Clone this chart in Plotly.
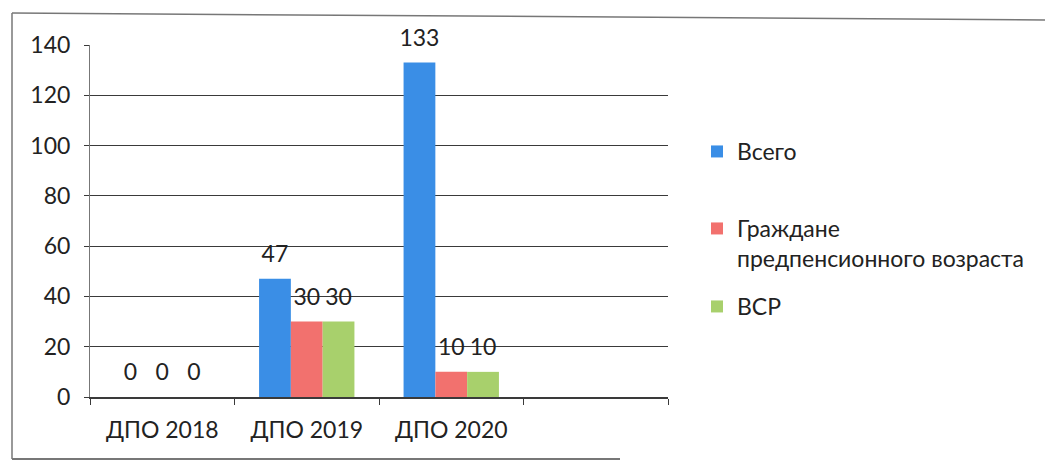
import plotly.graph_objects as go

categories = ["ДПО 2018", "ДПО 2019", "ДПО 2020"]
axis_slots = categories + [" "]

series_names = ["Всего", "Граждане<br>предпенсионного возраста", "ВСР"]
vsego = [0, 47, 133]
grazhdane = [0, 30, 10]
vsr = [0, 30, 10]

COLORS = ["#3A8EE6", "#F2716E", "#A8D06C"]
FONT = "Lato, 'Open Sans', sans-serif"

# screen geometry (page body adds an 8px offset)
OFF = 8
W, H = 1053, 465
L, R, T, B = 90, 385, 45, 68
PW, PH = W - L - R, H - T - B


def px_x(x):
    return (x - L) / PW


def px_y(y):
    return (H - B - y) / PH


fig = go.Figure()

legends = ["legend", "legend2", "legend3"]
for i, (name, vals) in enumerate(zip(series_names, [vsego, grazhdane, vsr])):
    fig.add_trace(go.Bar(
        x=categories, y=vals, name=name,
        marker=dict(color=COLORS[i], line=dict(width=0)),
        offsetgroup=str(i), legend=legends[i],
    ))
    # value labels sit a little above the bar tops
    fig.add_trace(go.Scatter(
        x=categories, y=vals, mode="markers+text",
        text=[str(v) for v in vals], textposition="top center",
        textfont=dict(size=23, color="#222", family=FONT),
        marker=dict(size=16, opacity=0),
        offsetgroup=str(i), showlegend=False, hoverinfo="skip",
        cliponaxis=False,
    ))

grid = "#3a3a3a"
leg_font = dict(size=23, color="#222")
fig.update_layout(
    width=W - OFF, height=H - OFF,
    margin=dict(l=L - OFF, r=R, t=T - OFF, b=B),
    paper_bgcolor="white", plot_bgcolor="white",
    barmode="group", bargap=0.34, bargroupgap=0,
    scattermode="group", scattergap=0.34,
    font=dict(family=FONT, size=23, color="#222"),
    xaxis=dict(
        categoryorder="array", categoryarray=axis_slots, range=[-0.5, 3.5],
        showline=True, linecolor=grid, linewidth=1.5,
        ticks="outside", tickson="boundaries", ticklen=6, tickcolor=grid,
        showgrid=False, ticklabelstandoff=12,
    ),
    yaxis=dict(
        range=[0, 140], dtick=20, showgrid=True, gridcolor=grid, gridwidth=1.3,
        showline=True, linecolor="#777", linewidth=1,
        ticks="outside", ticklen=5, tickcolor=grid, zeroline=False,
        ticklabelstandoff=9,
    ),
    legend=dict(x=px_x(697), y=px_y(130), xanchor="left", yanchor="top",
                font=leg_font, bgcolor="rgba(0,0,0,0)"),
    legend2=dict(x=px_x(697), y=px_y(207), xanchor="left", yanchor="top",
                 font=leg_font, valign="top", bgcolor="rgba(0,0,0,0)"),
    legend3=dict(x=px_x(697), y=px_y(285), xanchor="left", yanchor="top",
                 font=leg_font, bgcolor="rgba(0,0,0,0)"),
    shapes=[
        dict(type="line", xref="paper", yref="paper", x0=px_x(12), x1=px_x(12),
             y0=px_y(13), y1=px_y(459), line=dict(color="#777", width=1.5)),
        dict(type="line", xref="paper", yref="paper", x0=px_x(12), x1=px_x(1053),
             y0=px_y(13), y1=px_y(20), line=dict(color="#777", width=1.5)),
        dict(type="line", xref="paper", yref="paper", x0=px_x(12), x1=px_x(620),
             y0=px_y(459), y1=px_y(459), line=dict(color="#777", width=2)),
    ],
)

fig.write_html("out.html")
